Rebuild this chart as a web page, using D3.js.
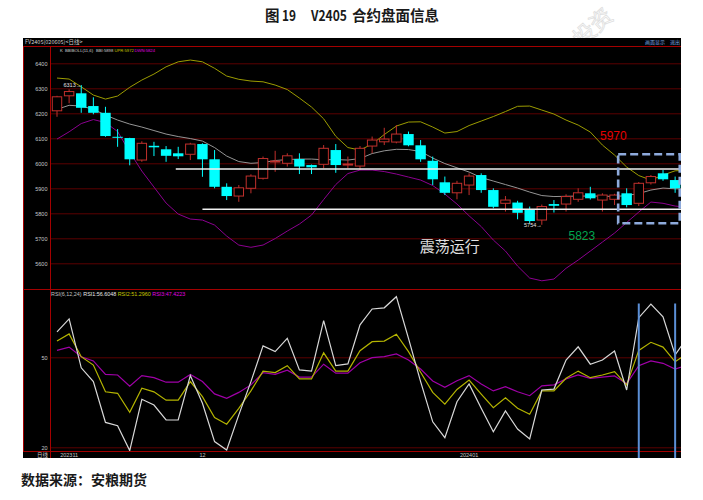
<!DOCTYPE html>
<html><head><meta charset="utf-8">
<script src="https://cdn.jsdelivr.net/npm/d3@7"></script>
<style>body{margin:0;background:#fff}svg{display:block}</style>
</head><body><svg id="c" width="703" height="500"></svg>
<script>
// ---- data (daily bars, FV2405) ----
const open  = [6210,6270,6280,6229,6202,6106,6101,6013,6070,6056,6040,6036,6077,6016,5906,5869,5900,5940,6005,6000,6017,5993,5996,6053,5994,5989,6069,6086,6085,6117,6072,6010,5924,5882,5913,5953,5893,5840,5843,5816,5773,5837,5837,5856,5880,5853,5856,5880,5840,5922,5960,5933];
const high  = [6270,6296,6313,6264,6226,6137,6102,6088,6086,6069,6066,6082,6080,6053,5920,5913,5956,6027,6050,6040,6040,5995,6073,6077,6027,6069,6107,6142,6153,6127,6093,6027,5947,5930,5960,5960,5900,5869,5850,5827,5835,5853,5876,5900,5906,5880,5878,5900,5925,5953,5973,5947];
const low   = [6186,6240,6202,6196,6106,6066,5992,6006,6029,6006,6017,6013,5946,5900,5853,5846,5880,5935,5966,5987,5957,5957,5980,5962,5980,5973,6040,6073,6080,6068,6006,5913,5873,5856,5873,5882,5820,5807,5776,5760,5754,5803,5807,5846,5855,5807,5833,5824,5829,5915,5930,5882];
const close = [6266,6287,6222,6202,6109,6102,6016,6080,6064,6030,6028,6077,6016,5906,5869,5902,5949,6019,6009,6030,5987,5984,6060,5993,5997,6060,6093,6097,6117,6072,6016,5936,5882,5920,5949,5893,5826,5853,5802,5769,5827,5830,5867,5882,5860,5873,5873,5833,5920,5947,5936,5900];
// BBIBOLL(11,6)  (last value belongs to the bar just past the right edge)
const bbi = [6216,6232,6229,6216,6193,6173,6157,6145,6131,6117,6107,6099,6089,6063,6029,6007,6000,6003,6011,6015,6017,6017,6014,6015,6013,6019,6039,6050,6056,6055,6047,6021,5999,5982,5965,5943,5929,5915,5901,5885,5871,5867,5868,5869,5869,5869,5867,5871,5879,5893,5901,5898,5898];
const upr = [6341,6337,6306,6273,6257,6269,6304,6333,6357,6386,6406,6413,6406,6380,6349,6336,6329,6326,6313,6295,6261,6225,6178,6108,6063,6053,6077,6115,6149,6165,6166,6145,6121,6127,6151,6169,6187,6207,6228,6229,6213,6197,6173,6153,6125,6073,6033,5985,5951,5933,5953,5970,5972];
const dwn = [6097,6126,6159,6175,6163,6127,6045,5969,5905,5841,5797,5777,5773,5753,5709,5673,5664,5673,5699,5729,5757,5793,5855,5915,5959,5973,5973,5967,5957,5945,5933,5911,5877,5837,5790,5747,5693,5649,5589,5541,5530,5537,5580,5613,5649,5685,5721,5763,5805,5845,5840,5829,5824];
// RSI(6,12,24)
const rsi1 = [58.5,62.8,46.5,41.9,28.3,27.2,18.9,36.0,34.1,29.1,29.1,43.9,34.7,21.9,19.1,30.8,41.9,53.8,51.9,56.3,45.8,45.4,62.2,47.2,47.8,60.8,66.1,66.5,70.2,56.3,41.9,28.5,23.2,35.2,41.1,33.0,25.2,32.1,26.1,22.8,39.1,39.4,49.1,53.5,47.7,49.1,52.1,39.1,63.2,67.7,63.5,50.8,56.6];
const rsi2 = [55.4,57.8,50.2,47.4,38.5,38.0,31.7,39.7,38.5,35.7,35.7,41.9,36.9,29.9,27.7,33.0,38.8,45.4,44.9,47.2,42.8,42.8,51.5,45.4,45.4,52.2,55.2,55.4,57.7,51.9,45.0,38.3,34.4,39.3,42.4,37.7,33.2,36.5,33.0,31.0,38.8,38.8,43.0,45.4,43.2,44.1,45.2,40.8,52.3,55.0,53.4,48.5,51.3];
const rsi3 = [52.3,53.4,50.2,48.8,44.3,44.1,40.4,43.9,43.2,41.7,41.7,44.3,41.9,37.8,36.3,38.3,40.8,44.9,44.3,45.7,43.4,43.4,47.7,44.7,44.7,48.2,49.9,50.2,51.1,49.1,46.1,42.1,40.0,42.2,43.9,41.1,38.8,40.2,38.5,37.2,40.5,40.8,42.8,44.1,43.0,43.4,43.8,41.2,47.2,48.8,48.0,46.1,47.4];
const priceTicks = [5600,5700,5800,5900,6000,6100,6200,6300,6400];
const rsiTicks = [20,50];
const dateTickIdx = [1,12,34];
const dateTickLabels = ["202311","12","202401"];
// annotations
const levelFrom = [9.8,12];
const levelPrice = [5977,5816];
const boxIdx = [46.3,51.38];
const boxPrice = [6036,5760];
const markIdx = [48,51];
const noteText = ["5970","5823","震荡运行"];
const noteIdx = [45.9,43.3,32.4];
const notePrice = [6109,5710,5665];
const extremeIdx = [2,40];
const extremeVal = [6313,5754];

// ---- drawing ----
const svg = d3.select("#c");
const FS = "Liberation Sans, Arial, sans-serif";
const CJK = "Noto Sans CJK SC, sans-serif";
const PL = 50.5, PR = 681;

// watermark
svg.append("text").attr("transform","translate(598,33) rotate(-42)")
  .attr("font-family",CJK).attr("font-size",22).attr("fill","none").attr("stroke","#dedede").attr("stroke-width",0.8)
  .attr("text-anchor","middle").text("投资");

// title
const title = svg.append("g").attr("font-family",CJK).attr("font-weight","bold").attr("font-size",14.5).attr("fill","#1a1a1a");
title.append("text").attr("x",265).attr("y",21).text("图");
title.append("text").attr("x",282).attr("y",21).attr("textLength",14).attr("lengthAdjust","spacingAndGlyphs").text("19");
title.append("text").attr("x",311).attr("y",21).attr("textLength",36).attr("lengthAdjust","spacingAndGlyphs").text("V2405");
title.append("text").attr("x",352).attr("y",21).text("合约盘面信息");

svg.append("rect").attr("x",23).attr("y",38).attr("width",658).attr("height",420).attr("fill","#000");

const xi = d3.scaleLinear().domain([-0.5,51.5]).range([50.94,681.2]);
const yP = d3.scaleLinear().domain([5600,6400]).range([263.3,63.3]);
const yR = d3.scaleLinear().domain([20,50]).range([447.3,357.3]);
const step = xi(1)-xi(0);

const defs = svg.append("defs");
defs.append("clipPath").attr("id","pc").append("rect").attr("x",51).attr("y",47).attr("width",PR-51).attr("height",242);
defs.append("clipPath").attr("id","rc").append("rect").attr("x",51).attr("y",290).attr("width",PR-51).attr("height",161);

// axes + grid
function styleAxis(g){
  g.select(".domain").remove();
  g.selectAll(".tick line").attr("stroke","#5c0000").attr("stroke-width",1);
  g.selectAll(".tick text").attr("fill","#c8c8c8").attr("font-size",5.5).attr("font-family",FS);
}
svg.append("g").attr("transform",`translate(${PL},0)`)
  .call(d3.axisLeft(yP).tickValues(priceTicks).tickSizeInner(-(PR-PL)).tickSizeOuter(0).tickPadding(3).tickFormat(d3.format("d")))
  .call(styleAxis);
svg.append("g").attr("transform",`translate(${PL},0)`)
  .call(d3.axisLeft(yR).tickValues(rsiTicks).tickSizeInner(-(PR-PL)).tickSizeOuter(0).tickPadding(3).tickFormat(d3.format("d")))
  .call(styleAxis);

// frame lines
const red = "#a40000";
[[23,46.5,PR,46.5],[23,289.5,PR,289.5],[23,451.5,PR,451.5],[PL,46.5,PL,458],[23.5,46.5,23.5,451.5]].forEach(([a,b,c,d])=>
  svg.append("line").attr("x1",a).attr("y1",b).attr("x2",c).attr("y2",d).attr("stroke",red).attr("stroke-width",1));

// header texts
svg.append("text").attr("x",25).attr("y",44).attr("font-size",5.5).attr("font-family",CJK).attr("fill","#d0d0d0").text("FV2405(020605)<日线>");
svg.append("text").attr("x",645).attr("y",44).attr("font-size",5).attr("font-family",CJK).attr("fill","#7aa7e0").text("画面显示");
svg.append("text").attr("x",670).attr("y",44).attr("font-size",5).attr("font-family",CJK).attr("fill","#7aa7e0").text("退出");

// BOLL legend
const lg = svg.append("g").attr("font-size",4.2).attr("font-family",FS);
[["K",60,"#d0d0d0"],["BBIBOLL(11,6)",65,"#d0d0d0"],["BBI:"+bbi[52],96,"#d0d0d0"],["UPR:"+upr[52],114.5,"#c8c800"],["DWN:"+dwn[52],134.5,"#e000e0"]]
  .forEach(([t,x,c])=>lg.append("text").attr("x",x).attr("y",51.8).attr("fill",c).text(t));
// RSI legend
const rl = svg.append("g").attr("font-size",5.5).attr("font-family",FS);
[["RSI(6,12,24)",51,30.5,"#c0c0c0"],["RSI1:56.6048",83.3,33,"#e8e8e8"],["RSI2:51.2960",117.7,33,"#c8c800"],["RSI3:47.4223",152.3,33,"#e000e0"]]
  .forEach(([t,x,w,c])=>rl.append("text").attr("x",x).attr("y",295.5).attr("fill",c)
    .attr("textLength",w).attr("lengthAdjust","spacingAndGlyphs").text(t));

// date row
svg.append("text").attr("x",48).attr("y",457).attr("text-anchor","end").attr("font-size",5.5).attr("font-family",CJK).attr("fill","#c8c8c8").text("日线");
dateTickIdx.forEach((d,k)=>svg.append("text").attr("x",xi(d)).attr("y",457).attr("text-anchor","middle")
  .attr("font-size",5.5).attr("font-family",FS).attr("fill","#c8c8c8").text(dateTickLabels[k]));

// price panel
const pg = svg.append("g").attr("clip-path","url(#pc)");
const lineP = d3.line().x((d,i)=>xi(i)).y(d=>yP(d));
pg.append("path").attr("d",lineP(upr)).attr("fill","none").attr("stroke","#9c9c00").attr("stroke-width",1);
pg.append("path").attr("d",lineP(dwn)).attr("fill","none").attr("stroke","#8c0090").attr("stroke-width",1);
pg.append("path").attr("d",lineP(bbi)).attr("fill","none").attr("stroke","#959595").attr("stroke-width",1);

const upC = "#c0302c", dnC = "#00ffff";
const bw = step*0.86;
open.forEach((o,i)=>{
  const c = close[i], up = c >= o, col = up ? upC : dnC;
  const x = xi(i);
  pg.append("line").attr("x1",x).attr("x2",x).attr("y1",yP(high[i])).attr("y2",yP(low[i])).attr("stroke",col).attr("stroke-width",1);
  const y0 = yP(Math.max(o,c)), h = Math.max(1, yP(Math.min(o,c))-y0);
  if(up){
    pg.append("rect").attr("x",x-bw/2+0.5).attr("y",y0).attr("width",bw-1).attr("height",h).attr("fill","#000").attr("stroke",col).attr("stroke-width",1);
  } else {
    pg.append("rect").attr("x",x-bw/2).attr("y",y0).attr("width",bw).attr("height",h).attr("fill",col);
  }
});

// extreme labels
extremeIdx.forEach((d,k)=>pg.append("text").attr("x",xi(d)).attr("y",yP(extremeVal[k])).attr("dy","0.35em")
  .attr("text-anchor","end").attr("font-size",5.5).attr("font-family",FS).attr("fill","#e0e0e0").text(extremeVal[k]+"→"));

// support/resistance lines
levelFrom.forEach((f,k)=>pg.append("line").attr("x1",xi(f)).attr("x2",PR).attr("y1",yP(levelPrice[k])).attr("y2",yP(levelPrice[k]))
  .attr("stroke","#f0f0f0").attr("stroke-width",1.6));

// dashed box
pg.append("rect").attr("x",xi(boxIdx[0])).attr("y",yP(boxPrice[0])).attr("width",xi(boxIdx[1])-xi(boxIdx[0]))
  .attr("height",yP(boxPrice[1])-yP(boxPrice[0])).attr("fill","none").attr("stroke","#8eaadc").attr("stroke-width",2.6)
  .attr("stroke-dasharray","8,4");

// notes
const noteCol = ["#e60000","#00a650","#e0e0e0"], noteSize = [12,12,15];
noteText.forEach((t,k)=>svg.append("text").attr("x",xi(noteIdx[k])).attr("y",yP(notePrice[k])).attr("dy","0.35em")
  .attr("text-anchor","middle").attr("font-size",noteSize[k]).attr("font-family",k==2?CJK:FS).attr("fill",noteCol[k]).text(t));

// RSI panel
const rg = svg.append("g").attr("clip-path","url(#rc)");
const lineR = d3.line().x((d,i)=>xi(i)).y(d=>yR(d));
rg.append("path").attr("d",lineR(rsi3)).attr("fill","none").attr("stroke","#a000a8").attr("stroke-width",1.2);
rg.append("path").attr("d",lineR(rsi2)).attr("fill","none").attr("stroke","#b4b400").attr("stroke-width",1.2);
rg.append("path").attr("d",lineR(rsi1)).attr("fill","none").attr("stroke","#d8d8d8").attr("stroke-width",1.2);
markIdx.forEach(d=>svg.append("line").attr("x1",xi(d)).attr("x2",xi(d)).attr("y1",303.5).attr("y2",458)
  .attr("stroke","#5b8fd6").attr("stroke-width",2));

// source
svg.append("text").attr("x",21).attr("y",485).attr("font-family",CJK).attr("font-weight","bold").attr("font-size",14).attr("fill","#1a1a1a").text("数据来源：安粮期货");
</script></body></html>
